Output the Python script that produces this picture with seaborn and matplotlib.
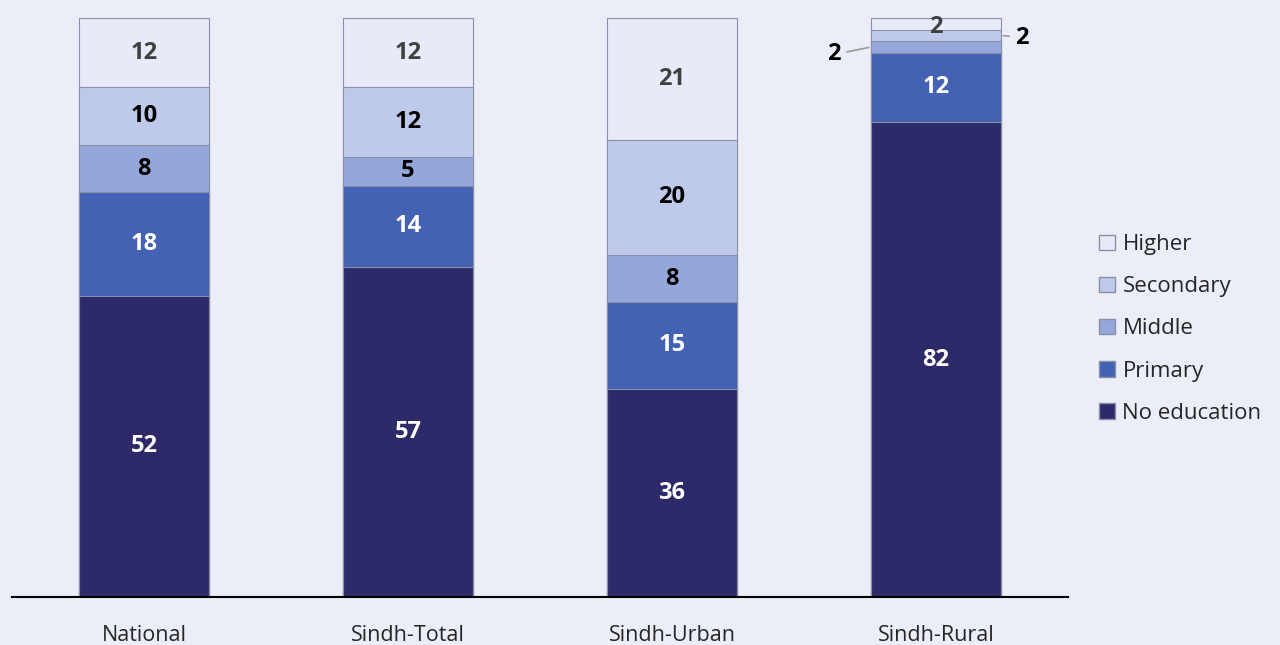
import numpy as np
import pandas as pd
import seaborn as sns
import matplotlib.pyplot as plt
from matplotlib.patches import Patch

categories = ['National', 'Sindh-Total', 'Sindh-Urban', 'Sindh-Rural']
levels = ['No education', 'Primary', 'Middle', 'Secondary', 'Higher']
no_education = [52, 57, 36, 82]
primary = [18, 14, 15, 12]
middle = [8, 5, 8, 2]
secondary = [10, 12, 20, 2]
higher = [12, 12, 21, 2]

colors = ['#2d2a6a', '#4462b4', '#94a6da', '#bfcaeb', '#e7ebf8']
text_colors = ['white', 'white', 'black', 'black', '#404040']
bg = '#ebedf7'

sns.set_style('white')
plt.rcParams['font.family'] = ['Open Sans', 'DejaVu Sans']

series = [no_education, primary, middle, secondary, higher]
df = pd.DataFrame({lvl: vals for lvl, vals in zip(levels, series)}, index=categories)
cum = df.cumsum(axis=1)

fig = plt.figure(figsize=(12.8, 6.45), dpi=100, facecolor=bg)
ax = fig.add_axes([12 / 1280, 48 / 645, 1056 / 1280, 579 / 645])
ax.set_facecolor(bg)

# draw cumulative bars from the top level down so each covers the next
for i in range(len(levels) - 1, -1, -1):
    lvl = levels[i]
    sns.barplot(x=categories, y=cum[lvl].values, color=colors[i], width=0.49,
                edgecolor='#8a8fa8', linewidth=0.8, saturation=1, ax=ax)

# segment labels
for j, cat in enumerate(categories):
    base = 0
    for i, lvl in enumerate(levels):
        v = df.loc[cat, lvl]
        mid = base + v / 2
        if v >= 5:
            ax.text(j, mid, str(v), ha='center', va='center', fontsize=17,
                    fontweight='bold', color=text_colors[i])
        base += v

# small Sindh-Rural segments labelled outside with leader lines
j = 3
r_mid = df.loc['Sindh-Rural', 'No education'] + df.loc['Sindh-Rural', 'Primary'] + middle[3] / 2
r_sec = r_mid + middle[3] / 2 + secondary[3] / 2
r_hig = r_sec + secondary[3] / 2 + higher[3] / 2
ax.annotate(str(middle[3]), xy=(j - 0.245, r_mid), xytext=(j - 0.36, r_mid - 1.3),
            ha='right', va='center', fontsize=17, fontweight='bold', color='black',
            arrowprops=dict(arrowstyle='-', color='#999999', lw=1.2))
ax.annotate(str(secondary[3]), xy=(j + 0.245, r_sec), xytext=(j + 0.30, r_sec - 0.4),
            ha='left', va='center', fontsize=17, fontweight='bold', color='black',
            arrowprops=dict(arrowstyle='-', color='#999999', lw=1.2))
ax.text(j, r_hig - 0.6, str(higher[3]), ha='center', va='center', fontsize=17,
        fontweight='bold', color='#404040')

ax.set_xlim(-0.5, 3.5)
ax.set_ylim(0, 100)
ax.set_yticks([])
ax.tick_params(axis='x', length=0, pad=20, labelsize=15.5)
for s in ['top', 'right', 'left']:
    ax.spines[s].set_visible(False)
ax.spines['bottom'].set_color('black')
ax.spines['bottom'].set_linewidth(1.5)

handles = [Patch(facecolor=colors[i], edgecolor='#8a8fa8', label=levels[i])
           for i in range(len(levels) - 1, -1, -1)]
fig.legend(handles=handles, loc='center left', bbox_to_anchor=(1088 / 1280, 1 - 329 / 645),
           frameon=False, fontsize=16, handlelength=0.7, handleheight=0.7,
           handletextpad=0.35, labelspacing=0.95, borderpad=0)

fig.savefig('out.png', dpi=100, facecolor=bg)
